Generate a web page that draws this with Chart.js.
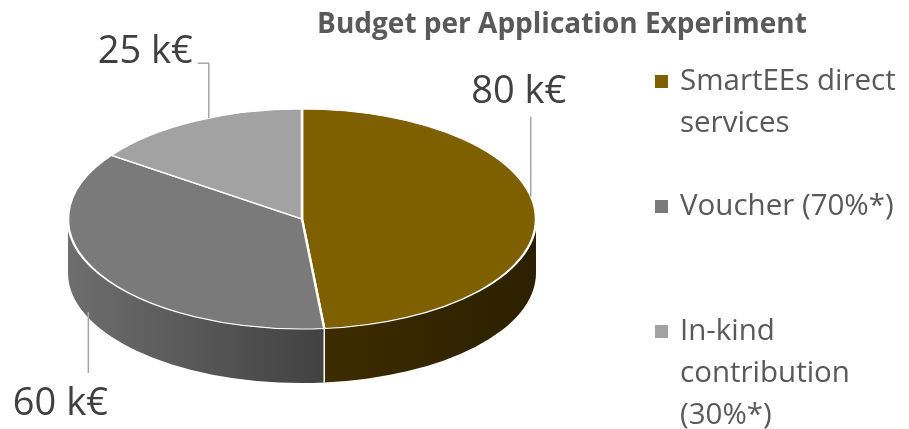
<!DOCTYPE html>
<html>
<head>
<meta charset="utf-8">
<script src="https://cdn.jsdelivr.net/npm/chart.js@4.4.0/dist/chart.umd.min.js"></script>
<style>
  html, body { margin: 0; padding: 0; background: #fff; }
  #wrap { width: 909px; height: 429px; }
</style>
</head>
<body>
<div id="wrap"><canvas id="budgetChart" width="909" height="429"></canvas></div>
<script>
const categories = [['SmartEEs direct', 'services'], ['Voucher (70%*)'], ['In-kind', 'contribution', '(30%*)']];
const budgetK = [80, 60, 25];
const valueLabels = ['80 k€', '60 k€', '25 k€'];
const chartTitle = 'Budget per Application Experiment';

const topColors = ['#7f6000', '#7a7a7a', '#a2a2a2'];
// side wall gradient, left -> right
const sideColors = [['#3e2c00', '#2b2000'], ['#6e6e6e', '#414141'], ['#8a8a8a', '#6a6a6a']];

// flattening of the pie to fake the 3D tilt
const squash = 110 / 234;
const depth = 54;

// leader line / label placement relative to the slice mid point on the rim
const labelLayout = [
    { path: [[-5, -17], [-5, -97]], text: [-17, -111], align: 'center' },
    { path: [[-11, 38], [-11, 99]], text: [-39, 141], align: 'center' },
    { path: [[14, -3], [14, -58], [3, -58]], text: [-2, -58], align: 'right' }
];

const pie3d = {
    id: 'pie3d',
    beforeDatasetsDraw(chart) {
        const ctx = chart.ctx;
        const arcs = chart.getDatasetMeta(0).data;
        const cx = arcs[0].x, cy = arcs[0].y;
        const rx = arcs[0].outerRadius, ry = rx * squash;

        // front side walls
        arcs.forEach((arc, i) => {
            for (let k = -1; k <= 1; k++) {
                const lo = Math.max(arc.startAngle, 2 * Math.PI * k);
                const hi = Math.min(arc.endAngle, Math.PI + 2 * Math.PI * k);
                if (hi <= lo) continue;
                ctx.beginPath();
                ctx.ellipse(cx, cy, rx, ry, 0, lo, hi, false);
                ctx.lineTo(cx + rx * Math.cos(hi), cy + ry * Math.sin(hi) + depth);
                ctx.ellipse(cx, cy + depth, rx, ry, 0, hi, lo, true);
                ctx.closePath();
                const g = ctx.createLinearGradient(cx + rx * Math.cos(hi), 0, cx + rx * Math.cos(lo), 0);
                g.addColorStop(0, sideColors[i][0]);
                g.addColorStop(1, sideColors[i][1]);
                ctx.fillStyle = g;
                ctx.fill();
            }
        });

        // white seams where slices meet on the front wall
        ctx.strokeStyle = '#ffffff';
        ctx.lineWidth = 1.5;
        arcs.forEach(arc => {
            const a = ((arc.endAngle % (2 * Math.PI)) + 2 * Math.PI) % (2 * Math.PI);
            if (a > 0.02 && a < Math.PI - 0.02) {
                const x = cx + rx * Math.cos(a), y = cy + ry * Math.sin(a);
                ctx.beginPath();
                ctx.moveTo(x, y);
                ctx.lineTo(x, y + depth);
                ctx.stroke();
            }
        });

        ctx.save();
        ctx.translate(cx, cy);
        ctx.scale(1, squash);
        ctx.translate(-cx, -cy);
    },
    afterDatasetsDraw(chart) {
        const ctx = chart.ctx;
        ctx.restore();
        const arcs = chart.getDatasetMeta(0).data;
        const cx = arcs[0].x, cy = arcs[0].y;
        const rx = arcs[0].outerRadius, ry = rx * squash;

        // value labels with leader lines
        arcs.forEach((arc, i) => {
            const mid = (arc.startAngle + arc.endAngle) / 2;
            const ax = cx + rx * Math.cos(mid), ay = cy + ry * Math.sin(mid);
            const lay = labelLayout[i];
            ctx.strokeStyle = '#a6a6a6';
            ctx.lineWidth = 1.5;
            ctx.beginPath();
            lay.path.forEach(([dx, dy], j) => {
                if (j === 0) ctx.moveTo(ax + dx, ay + dy);
                else ctx.lineTo(ax + dx, ay + dy);
            });
            ctx.stroke();
            ctx.font = '38px "Open Sans"';
            ctx.fillStyle = '#404040';
            ctx.textAlign = lay.align;
            ctx.textBaseline = 'alphabetic';
            ctx.fillText(valueLabels[i], ax + lay.text[0], ay + lay.text[1]);
        });

        // legend
        ctx.font = '29.5px "Open Sans"';
        ctx.textAlign = 'left';
        categories.forEach((lines, i) => {
            const base = 90 + i * 125;
            ctx.fillStyle = topColors[i];
            ctx.fillRect(655, base - 15, 13, 13);
            ctx.fillStyle = '#595959';
            lines.forEach((t, j) => ctx.fillText(t, 680, base + j * 42));
        });

        // title
        ctx.font = 'bold 28px "Open Sans"';
        ctx.fillStyle = '#595959';
        ctx.textAlign = 'center';
        ctx.fillText(chartTitle, 562, 33);
    }
};

new Chart(document.getElementById('budgetChart'), {
    type: 'pie',
    data: {
        labels: categories,
        datasets: [{
            data: budgetK,
            backgroundColor: topColors,
            borderColor: '#ffffff',
            borderWidth: 2.5
        }]
    },
    options: {
        responsive: false,
        animation: false,
        radius: 234,
        layout: { padding: { left: 192, right: 497, top: 109, bottom: 100 } },
        plugins: {
            legend: { display: false },
            tooltip: { enabled: false },
            title: { display: false }
        }
    },
    plugins: [pie3d]
});
</script>
</body>
</html>
